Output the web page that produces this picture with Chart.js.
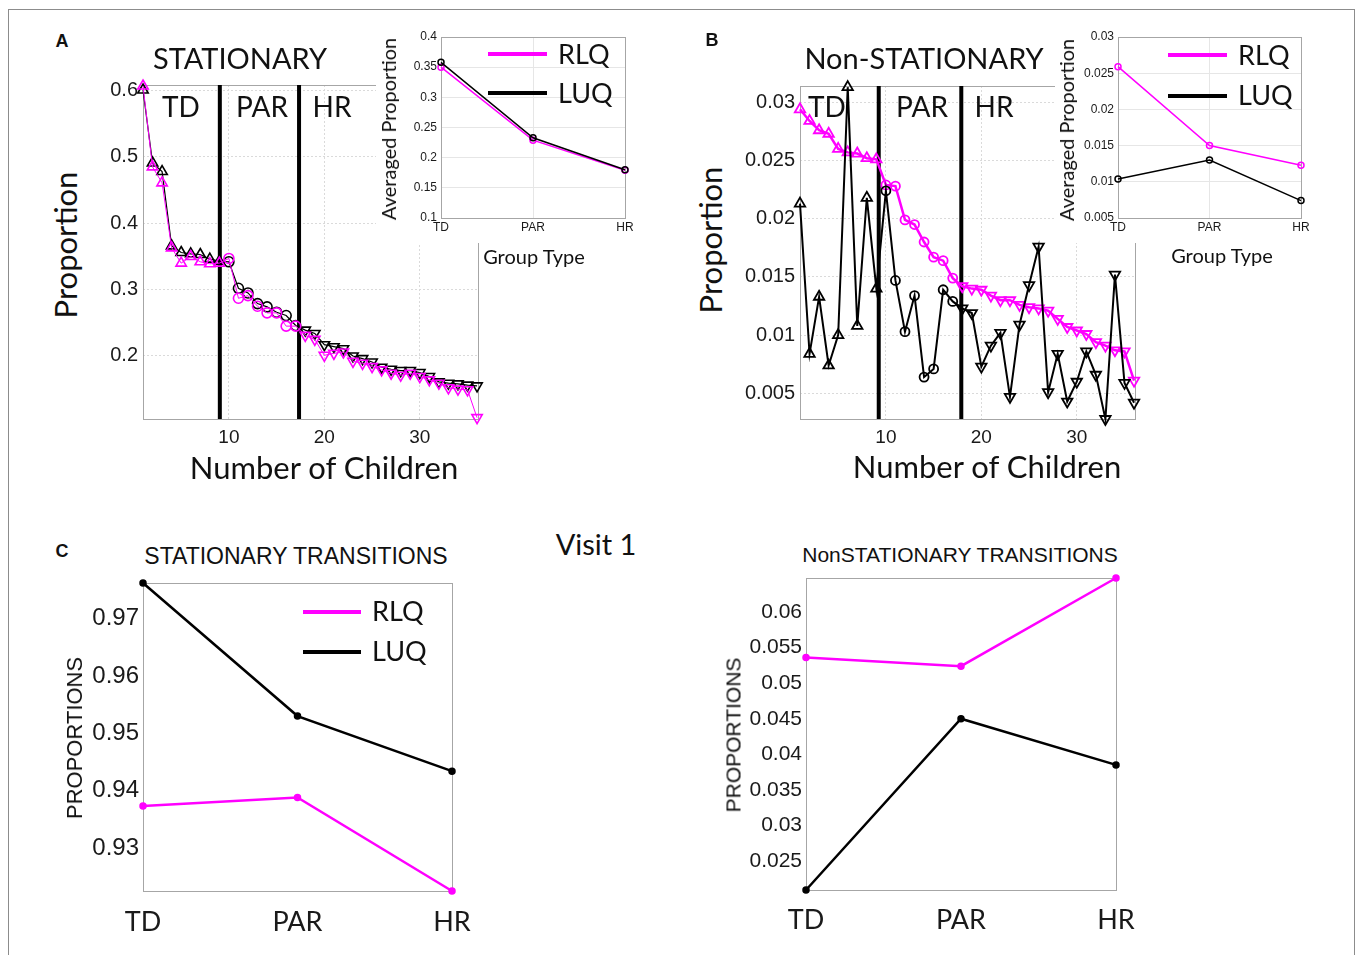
<!DOCTYPE html>
<html>
<head>
<meta charset="utf-8">
<script src="https://cdn.jsdelivr.net/npm/chart.js@4.4.1/dist/chart.umd.min.js"></script>
<style>
  body { margin: 0; background: #fff; width: 1356px; height: 955px; position: relative; overflow: hidden; }
  .frame { position: absolute; left: 8px; top: 9px; width: 1345px; height: 980px; border: 1px solid #8c8c8c; }
  canvas { position: absolute; }
  canvas.inset { background: #fff; }
  .t { position: absolute; white-space: nowrap; color: #111; line-height: 1; transform: translate(-50%, -50%); }
  .l { position: absolute; white-space: nowrap; color: #111; line-height: 1; transform: translateY(-50%); }
  .v { transform: translate(-50%, -50%) rotate(-90deg); }
  .cal { font-family: Lato, 'Open Sans', sans-serif; }
  .hel { font-family: 'Liberation Sans', Arial, sans-serif; }
  .letter { font-family: 'Liberation Sans', Arial, sans-serif; font-weight: bold; font-size: 18px; }
  .leg { position: absolute; height: 4px; transform: translateY(-50%); }
</style>
</head>
<body>
<div class="frame"></div>

<canvas id="mainA"></canvas>
<canvas id="mainB"></canvas>
<canvas id="insetA" class="inset"></canvas>
<canvas id="insetB" class="inset"></canvas>
<canvas id="transStat"></canvas>
<canvas id="transNon"></canvas>

<!-- panel A -->
<div class="t letter" style="left:62px;top:41px">A</div>
<div class="t cal" style="left:240px;top:57px;font-size:29px">STATIONARY</div>
<div class="t cal" style="left:181px;top:106px;font-size:28px">TD</div>
<div class="t cal" style="left:262px;top:106px;font-size:28px">PAR</div>
<div class="t cal" style="left:332px;top:106px;font-size:28px">HR</div>
<div class="t cal" style="left:324px;top:467px;font-size:31px">Number of Children</div>
<div class="t v cal" style="left:65px;top:245px;font-size:31px">Proportion</div>
<div class="t v cal" style="left:388px;top:129px;font-size:20px">Averaged Proportion</div>
<div class="t cal" style="left:534px;top:256px;font-size:20px">Group Type</div>
<div class="leg" style="left:488px;top:54px;width:59px;background:#ff00ff"></div>
<div class="l cal" style="left:558px;top:53px;font-size:27px">RLQ</div>
<div class="leg" style="left:488px;top:93px;width:59px;background:#000"></div>
<div class="l cal" style="left:558px;top:92px;font-size:27px">LUQ</div>

<!-- panel B -->
<div class="t letter" style="left:712px;top:40px">B</div>
<div class="t cal" style="left:924px;top:57px;font-size:29px">Non-STATIONARY</div>
<div class="t cal" style="left:827px;top:106px;font-size:28px">TD</div>
<div class="t cal" style="left:922px;top:106px;font-size:28px">PAR</div>
<div class="t cal" style="left:994px;top:106px;font-size:28px">HR</div>
<div class="t cal" style="left:987px;top:466px;font-size:31px">Number of Children</div>
<div class="t v cal" style="left:710px;top:240px;font-size:31px">Proportion</div>
<div class="t v cal" style="left:1066px;top:130px;font-size:20px">Averaged Proportion</div>
<div class="t cal" style="left:1222px;top:255px;font-size:20px">Group Type</div>
<div class="leg" style="left:1168px;top:55px;width:59px;background:#ff00ff"></div>
<div class="l cal" style="left:1238px;top:54px;font-size:27px">RLQ</div>
<div class="leg" style="left:1168px;top:96px;width:59px;background:#000"></div>
<div class="l cal" style="left:1238px;top:94px;font-size:27px">LUQ</div>

<!-- panel C -->
<div class="t letter" style="left:62px;top:551px">C</div>
<div class="t hel" style="left:296px;top:556px;font-size:23px">STATIONARY TRANSITIONS</div>
<div class="t cal" style="left:596px;top:543px;font-size:29px">Visit 1</div>
<div class="t v hel" style="left:75px;top:738px;font-size:22px">PROPORTIONS</div>
<div class="leg" style="left:303px;top:612px;width:58px;background:#ff00ff"></div>
<div class="l cal" style="left:372px;top:610px;font-size:27px">RLQ</div>
<div class="leg" style="left:303px;top:652px;width:58px;background:#000"></div>
<div class="l cal" style="left:372px;top:650px;font-size:27px">LUQ</div>
<div class="t hel" style="left:960px;top:554px;font-size:21px">NonSTATIONARY TRANSITIONS</div>
<div class="t v hel" style="left:733px;top:735px;font-size:21px">PROPORTIONS</div>

<script>
// ---- data ----
const children = [1, 2, 3, 4, 5, 6, 7, 8, 9, 10, 11, 12, 13, 14, 15, 16, 17, 18,
                  19, 20, 21, 22, 23, 24, 25, 26, 27, 28, 29, 30, 31, 32, 33, 34, 35, 36];

// A: stationary proportion per child
const statRLQ = [0.607, 0.485, 0.461, 0.363, 0.340, 0.350, 0.342, 0.339, 0.340, 0.347, 0.287, 0.291,
                 0.275, 0.265, 0.265, 0.245, 0.245, 0.231, 0.225, 0.201, 0.204, 0.206, 0.192, 0.189,
                 0.184, 0.179, 0.174, 0.171, 0.174, 0.169, 0.164, 0.159, 0.152, 0.150, 0.149, 0.107];
const statLUQ = [0.601, 0.491, 0.478, 0.366, 0.356, 0.354, 0.353, 0.346, 0.343, 0.342, 0.302, 0.295,
                 0.279, 0.274, 0.266, 0.261, 0.246, 0.239, 0.234, 0.217, 0.214, 0.211, 0.200, 0.196,
                 0.191, 0.183, 0.180, 0.178, 0.178, 0.175, 0.169, 0.161, 0.159, 0.158, 0.156, 0.155];

// B: non-stationary proportion per child
const nonRLQ = [0.0294, 0.0284, 0.0276, 0.0273, 0.0260, 0.0257, 0.0256, 0.0252, 0.0251, 0.0229, 0.0228, 0.0199,
                0.0195, 0.0180, 0.0167, 0.0164, 0.0149, 0.0142, 0.0140, 0.0139, 0.0134, 0.0130, 0.0130, 0.0126,
                0.0124, 0.0123, 0.0121, 0.0114, 0.0107, 0.0104, 0.0101, 0.0094, 0.0091, 0.0087, 0.0086, 0.0061];
const nonLUQ = [0.0213, 0.0084, 0.0133, 0.0074, 0.0100, 0.0313, 0.0108, 0.0218, 0.0140, 0.0224, 0.0147, 0.0103,
                0.0134, 0.0064, 0.0071, 0.0139, 0.0129, 0.0123, 0.0119, 0.0073, 0.0091, 0.0102, 0.0047, 0.0109,
                0.0143, 0.0176, 0.0051, 0.0084, 0.0043, 0.0060, 0.0086, 0.0066, 0.0028, 0.0152, 0.0059, 0.0042];

// group boundaries (TD | PAR | HR) along the children axis
const dividersA = [9.05, 17.35];
const dividersB = [9.25, 17.9];

// axis ranges
const xRangeA = [1, 36.1];
const yRangeA = [0.105, 0.6085];
const xRangeB = [1, 36.1];
const yRangeB = [0.0028, 0.0314];

// insets: averaged proportion per group
const groups = ['TD', 'PAR', 'HR'];
const avgStatRLQ = [0.350, 0.229, 0.179];
const avgStatLUQ = [0.358, 0.233, 0.180];
const avgNonRLQ = [0.0259, 0.0150, 0.0123];
const avgNonLUQ = [0.0104, 0.0130, 0.0074];

// C: transitions per group
const transStatRLQ = [0.9373, 0.9388, 0.9225];
const transStatLUQ = [0.9762, 0.9530, 0.9434];
const transNonRLQ = [0.0536, 0.0524, 0.0648];
const transNonLUQ = [0.0209, 0.0450, 0.0385];

const MAGENTA = '#ff00ff';
const BLACK = '#000000';

// ---- setup ----
Chart.defaults.font.family = "'Liberation Sans', Arial, sans-serif";
Chart.defaults.color = '#1a1a1a';
Chart.defaults.animation = false;
Chart.defaults.plugins.legend.display = false;
Chart.defaults.plugins.tooltip.enabled = false;

// matlab style box round the plot area
Chart.register({
    id: 'box',
    beforeDatasetsDraw(chart) {
        const a = chart.chartArea;
        const ctx = chart.ctx;
        ctx.save();
        ctx.strokeStyle = '#a6a6a6';
        ctx.lineWidth = 1;
        ctx.strokeRect(Math.round(a.left) + 0.5, Math.round(a.top) + 0.5,
                       Math.round(a.right - a.left), Math.round(a.bottom - a.top));
        ctx.restore();
    }
});

const fmt = v => String(Number(v.toFixed(4)));

const zeroPad = s => { s.paddingLeft = s.paddingRight = s.paddingTop = s.paddingBottom = 0; };

function makeChart(id, area, pad, config) {
    const cv = document.getElementById(id);
    const w = area.w + pad.l + pad.r;
    const h = area.h + pad.t + pad.b;
    cv.width = w;
    cv.height = h;
    cv.style.left = (area.x - pad.l) + 'px';
    cv.style.top = (area.y - pad.t) + 'px';
    cv.style.width = w + 'px';
    cv.style.height = h + 'px';
    config.options.responsive = false;
    config.options.devicePixelRatio = 1;
    config.options.layout = { autoPadding: false, padding: { top: pad.t, right: pad.r, left: 0, bottom: 0 } };
    config.options.scales.x.afterFit = s => { s.height = pad.b; zeroPad(s); };
    config.options.scales.y.afterFit = s => { s.width = pad.l; zeroPad(s); };
    return new Chart(cv, config);
}

// marker shape by group: triangle up (TD), circle (PAR), triangle down (HR)
function markers(dividers, triR, circR) {
    return {
        pointStyle: children.map(c => (c < dividers[0] || c >= dividers[1]) ? 'triangle' : 'circle'),
        pointRotation: children.map(c => c >= dividers[1] ? 180 : 0),
        pointRadius: children.map(c => (c < dividers[0] || c >= dividers[1]) ? triR : circR)
    };
}

function series(values, color, width, mk, markerWidth) {
    return Object.assign({
        data: children.map((c, i) => ({ x: c, y: values[i] })),
        borderColor: color,
        borderWidth: width,
        pointBorderColor: color,
        pointBackgroundColor: 'rgba(0,0,0,0)',
        pointBorderWidth: markerWidth,
        tension: 0,
        clip: false
    }, mk);
}

function divider(x, yr) {
    return {
        data: [{ x: x, y: yr[0] }, { x: x, y: yr[1] }],
        borderColor: BLACK,
        borderWidth: 4,
        pointRadius: 0,
        clip: false
    };
}

function mainScales(xr, yr, yStep) {
    const grid = { color: '#dadada', drawTicks: false };
    return {
        x: {
            type: 'linear', min: xr[0], max: xr[1],
            ticks: { stepSize: 10, includeBounds: false, padding: 7, font: { size: 19 }, maxRotation: 0, autoSkip: false, callback: fmt },
            grid: grid, border: { display: false, dash: [2, 2] }
        },
        y: {
            min: yr[0], max: yr[1],
            ticks: { stepSize: yStep, includeBounds: false, padding: 5, font: { size: 20 }, autoSkip: false, callback: fmt },
            grid: grid, border: { display: false, dash: [2, 2] }
        }
    };
}

function groupScales(yr, yStep, tickFont, xFont, xPad, showGrid) {
    return {
        x: {
            type: 'category', offset: false,
            ticks: { font: xFont, padding: xPad, maxRotation: 0, autoSkip: false, color: '#1a1a1a' },
            grid: { display: showGrid, color: '#e6e6e6', drawTicks: false }, border: { display: false }
        },
        y: {
            min: yr[0], max: yr[1],
            ticks: { stepSize: yStep, includeBounds: false, padding: 4, font: tickFont, autoSkip: false, callback: fmt },
            grid: { display: showGrid, color: '#e6e6e6', drawTicks: false }, border: { display: false }
        }
    };
}

function groupLine(values, color, width, radius, fill) {
    return {
        data: values,
        borderColor: color,
        borderWidth: width,
        pointRadius: radius,
        pointBorderColor: color,
        pointBorderWidth: 1.5,
        pointBackgroundColor: fill ? color : 'rgba(0,0,0,0)',
        tension: 0,
        clip: false
    };
}

// ---- A: stationary ----
const mkA = markers(dividersA, 6, 5);
makeChart('mainA', { x: 143, y: 85, w: 335, h: 334 }, { l: 50, t: 12, r: 12, b: 30 }, {
    type: 'line',
    data: {
        datasets: [
            series(statRLQ, MAGENTA, 1, mkA, 1.6),
            series(statLUQ, BLACK, 1.2, mkA, 1.6),
            divider(dividersA[0], yRangeA),
            divider(dividersA[1], yRangeA)
        ]
    },
    options: { scales: mainScales(xRangeA, yRangeA, 0.1) }
});

// ---- B: non-stationary ----
const mkB = markers(dividersB, 6, 4.5);
makeChart('mainB', { x: 800, y: 86, w: 335, h: 333 }, { l: 66, t: 12, r: 12, b: 30 }, {
    type: 'line',
    data: {
        datasets: [
            series(nonLUQ, BLACK, 2, mkB, 1.8),
            series(nonRLQ, MAGENTA, 2.5, mkB, 1.8),
            divider(dividersB[0], yRangeB),
            divider(dividersB[1], yRangeB)
        ]
    },
    options: { scales: mainScales(xRangeB, yRangeB, 0.005) }
});

// ---- insets ----
makeChart('insetA', { x: 441, y: 37, w: 184, h: 181 }, { l: 65, t: 9, r: 10, b: 25 }, {
    type: 'line',
    data: {
        labels: groups,
        datasets: [
            groupLine(avgStatLUQ, BLACK, 1.5, 3, false),
            groupLine(avgStatRLQ, MAGENTA, 1.5, 3, false)
        ]
    },
    options: { scales: groupScales([0.1, 0.4], 0.05, { size: 12 }, { size: 12 }, 2, true) }
});

makeChart('insetB', { x: 1118, y: 37, w: 183, h: 181 }, { l: 63, t: 9, r: 10, b: 25 }, {
    type: 'line',
    data: {
        labels: groups,
        datasets: [
            groupLine(avgNonRLQ, MAGENTA, 1.5, 3, false),
            groupLine(avgNonLUQ, BLACK, 1.5, 3, false)
        ]
    },
    options: { scales: groupScales([0.005, 0.03], 0.005, { size: 12 }, { size: 12 }, 2, true) }
});

// ---- C: transitions ----
const calFont = { family: "Lato, 'Open Sans', sans-serif", size: 27 };

makeChart('transStat', { x: 143, y: 583, w: 309, h: 308 }, { l: 70, t: 10, r: 40, b: 55 }, {
    type: 'line',
    data: {
        labels: groups,
        datasets: [
            groupLine(transStatLUQ, BLACK, 2.5, 3, true),
            groupLine(transStatRLQ, MAGENTA, 2.5, 3, true)
        ]
    },
    options: { scales: groupScales([0.9225, 0.9762], 0.01, { size: 24 }, calFont, 15, false) }
});

makeChart('transNon', { x: 806, y: 578, w: 310, h: 312 }, { l: 74, t: 10, r: 40, b: 55 }, {
    type: 'line',
    data: {
        labels: groups,
        datasets: [
            groupLine(transNonRLQ, MAGENTA, 2.5, 3, true),
            groupLine(transNonLUQ, BLACK, 2.5, 3, true)
        ]
    },
    options: { scales: groupScales([0.0209, 0.0648], 0.005, { size: 21 }, calFont, 14, false) }
});
</script>
</body>
</html>
